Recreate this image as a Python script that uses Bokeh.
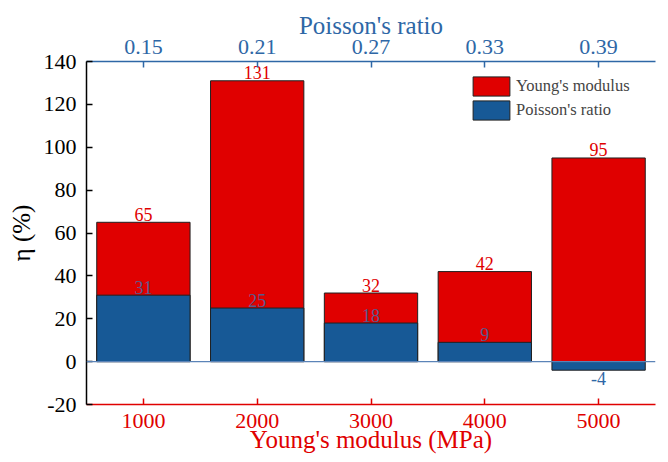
from bokeh.plotting import figure
from bokeh.models import (LinearAxis, FixedTicker, Range1d, Span, Legend, LegendItem)
from bokeh.core.properties import value
from bokeh.embed import file_html
from bokeh.resources import INLINE

# ---- data ----
young = [1000, 2000, 3000, 4000, 5000]
poisson_labels = ["0.15", "0.21", "0.27", "0.33", "0.39"]
eta_young = [65, 131, 32, 42, 95]
eta_poisson = [31, 25, 18, 9, -4]
y_ticks = [-20, 0, 20, 40, 60, 80, 100, 120, 140]

RED = "#e00000"
BLUE = "#175996"
AXBLUE = "#2e67a6"
FONT = "Liberation Serif"

p = figure(width=660, height=460, output_backend="svg", toolbar_location=None,
           x_range=Range1d(500, 5500), y_range=Range1d(-20, 140),
           x_axis_location=None, y_axis_location=None,
           min_border_left=86, min_border_right=5, min_border_top=61, min_border_bottom=56)
p.outline_line_color = None
p.grid.visible = False
p.background_fill_color = "white"

# bars
r_red = p.vbar(x=young, top=eta_young, bottom=0, width=820, fill_color=RED,
               line_color="#202020", line_width=1)
r_blue = p.vbar(x=young, top=eta_poisson, bottom=0, width=820, fill_color=BLUE,
                line_color="#202020", line_width=1)

p.add_layout(Span(location=0, dimension="width", line_color="#5b84b8", line_width=1.2))

# value labels
p.text(x=young, y=eta_young, text=[str(v) for v in eta_young],
       text_align="center", text_baseline="alphabetic", text_color=RED,
       text_font=value(FONT), text_font_size="18px", y_offset=-8)
pos_x = [x for x, v in zip(young, eta_poisson) if v >= 0]
pos_v = [v for v in eta_poisson if v >= 0]
neg_x = [x for x, v in zip(young, eta_poisson) if v < 0]
neg_v = [v for v in eta_poisson if v < 0]
p.text(x=pos_x, y=pos_v, text=[str(v) for v in pos_v],
       text_align="center", text_baseline="alphabetic", text_color="#5a5a8c",
       text_font=value(FONT), text_font_size="18px", y_offset=-8)
p.text(x=neg_x, y=neg_v, text=[str(v) for v in neg_v],
       text_align="center", text_baseline="top", text_color=AXBLUE,
       text_font=value(FONT), text_font_size="18px", y_offset=2)

def style(ax, color, label_color):
    ax.axis_line_color = color
    ax.major_tick_line_color = color
    ax.major_tick_in = 6
    ax.major_tick_out = 0
    ax.minor_tick_line_color = None
    ax.major_label_text_font = FONT
    ax.major_label_text_font_size = "22px"
    ax.major_label_text_color = label_color
    ax.axis_label_text_font = FONT
    ax.axis_label_text_font_size = "25px"
    ax.axis_label_text_font_style = "normal"
    ax.axis_label_text_color = label_color
    ax.axis_line_width = 1.5
    ax.major_tick_line_width = 1.5

bottom = LinearAxis(ticker=FixedTicker(ticks=young), axis_label="Young's modulus (MPa)")
style(bottom, RED, RED)
bottom.major_label_standoff = 9
bottom.axis_label_standoff = -5
p.add_layout(bottom, "below")

top = LinearAxis(ticker=FixedTicker(ticks=young), axis_label="Poisson's ratio",
                 major_label_overrides=dict(zip(young, poisson_labels)))
style(top, AXBLUE, AXBLUE)
top.major_label_standoff = 8
top.axis_label_standoff = -2
p.add_layout(top, "above")

left = LinearAxis(ticker=FixedTicker(ticks=y_ticks), axis_label="η (%)",
                  major_label_overrides={-20: "-20"})
style(left, "black", "black")
left.major_label_standoff = 10
left.axis_label_standoff = 6
p.add_layout(left, "left")

legend = Legend(items=[LegendItem(label="Young's modulus", renderers=[r_red]),
                       LegendItem(label="Poisson's ratio", renderers=[r_blue])],
                location=(382, 282), padding=0, margin=0, spacing=-9,
                glyph_width=46, glyph_height=24, label_standoff=2,
                label_text_font=FONT, label_text_font_size="16.5px",
                label_height=24, border_line_color=None, background_fill_alpha=0)
p.add_layout(legend, "center")

open("out.html", "w").write(file_html(p, INLINE))
